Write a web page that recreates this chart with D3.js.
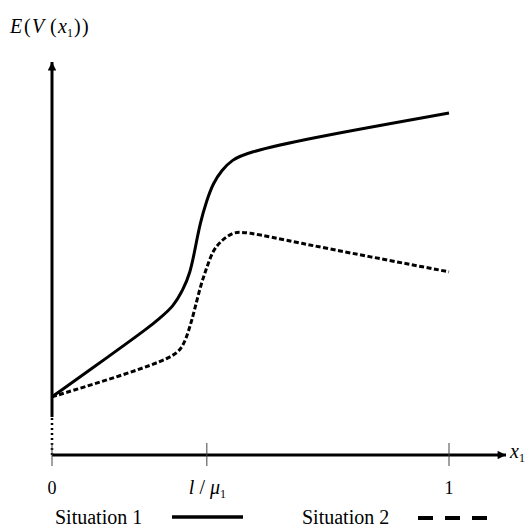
<!DOCTYPE html>
<html>
<head>
<meta charset="utf-8">
<script src="https://cdn.jsdelivr.net/npm/d3@7"></script>
<style>
body { margin: 0; background: #fff; }
</style>
</head>
<body>
<svg id="chart"></svg>
<script>
// values (x in units of x1, y as share of axis height)
var xs1 = [0, 0.146, 0.247, 0.272, 0.305, 0.330, 0.348, 0.360, 0.373, 0.390, 0.406, 0.428, 0.453, 0.491, 0.625, 1.0]
var ys1 = [0.148, 0.253, 0.327, 0.349, 0.377, 0.420, 0.463, 0.522, 0.590, 0.649, 0.692, 0.725, 0.751, 0.769, 0.802, 0.870]
var xs2 = [0, 0.071, 0.196, 0.305, 0.330, 0.345, 0.358, 0.373, 0.390, 0.406, 0.428, 0.453, 0.481, 0.625, 0.793, 1.0]
var ys2 = [0.148, 0.170, 0.209, 0.249, 0.275, 0.318, 0.364, 0.427, 0.478, 0.522, 0.547, 0.565, 0.570, 0.539, 0.506, 0.466]
var tickVals = [0, 0.39, 1]
var legendNames = ["Situation 1", "Situation 2"]

var screen = {width: 530, height: 528}

var svg = d3.select("#chart")
    .attr("width", screen.width)
    .attr("height", screen.height)
    .style("font-family", "\"Liberation Serif\", \"Times New Roman\", serif")

var xscale = d3.scaleLinear().domain([0, 1]).range([52, 449])
var yscale = d3.scaleLinear().domain([0, 1]).range([455, 62])

var defs = svg.append("defs")
defs.append("marker")
    .attr("id", "arrow")
    .attr("viewBox", "0 0 10 10")
    .attr("refX", 10).attr("refY", 5)
    .attr("markerWidth", 3.2).attr("markerHeight", 2.8)
    .attr("markerUnits", "strokeWidth")
    .attr("orient", "auto")
    .append("path")
    .attr("d", "M0,0L10,5L0,10Z")
    .attr("fill", "#000")

// y axis: dotted stub near the origin, solid above it
var yBreak = 0.097
svg.append("line")
    .attr("x1", xscale(0)).attr("x2", xscale(0))
    .attr("y1", yscale(0)).attr("y2", yscale(yBreak))
    .attr("stroke", "#000").attr("stroke-width", 2.5)
    .attr("stroke-dasharray", "2,3")
svg.append("line")
    .attr("x1", xscale(0)).attr("x2", xscale(0))
    .attr("y1", yscale(yBreak)).attr("y2", yscale(1))
    .attr("stroke", "#000").attr("stroke-width", 3)
    .attr("marker-end", "url(#arrow)")

// x axis
svg.append("line")
    .attr("x1", xscale(0)).attr("x2", 506)
    .attr("y1", yscale(0)).attr("y2", yscale(0))
    .attr("stroke", "#000").attr("stroke-width", 3)
    .attr("marker-end", "url(#arrow)")

svg.selectAll(".tick")
    .data(tickVals)
    .enter()
    .append("line")
    .attr("class", "tick")
    .attr("x1", function(d) { return xscale(d) })
    .attr("x2", function(d) { return xscale(d) })
    .attr("y1", yscale(0) - 12)
    .attr("y2", yscale(0) + 11)
    .attr("stroke", "#444").attr("stroke-width", 1)

// tick labels
svg.append("text").attr("x", xscale(0)).attr("y", 494)
    .attr("text-anchor", "middle").style("font-size", "18px").text("0")
svg.append("text").attr("x", xscale(1)).attr("y", 494)
    .attr("text-anchor", "middle").style("font-size", "18px").text("1")
var lm = svg.append("text").attr("x", xscale(tickVals[1]) - 18).attr("y", 494)
    .style("font-size", "20px")
lm.append("tspan").style("font-style", "italic").text("l")
lm.append("tspan").attr("dx", 5).text("/")
lm.append("tspan").attr("dx", 5).style("font-style", "italic").text("μ")
lm.append("tspan").attr("dy", 4).style("font-size", "12px").text("1")

// axis titles
var xt = svg.append("text").attr("x", 510).attr("y", 458).style("font-size", "20px")
xt.append("tspan").style("font-style", "italic").text("x")
xt.append("tspan").attr("dy", 4).style("font-size", "12px").text("1")

var yt = svg.append("text").attr("y", 33).style("font-size", "20px")
yt.append("tspan").attr("x", 10).style("font-style", "italic").text("E")
yt.append("tspan").attr("x", 24).text("(")
yt.append("tspan").attr("x", 32).style("font-style", "italic").text("V")
yt.append("tspan").attr("x", 50).text("(")
yt.append("tspan").attr("x", 58).style("font-style", "italic").text("x")
yt.append("tspan").attr("x", 67).attr("dy", 4).style("font-size", "12px").text("1")
yt.append("tspan").attr("x", 74).attr("dy", -4).text(")")
yt.append("tspan").attr("x", 82).text(")")

// curves
var line = d3.line()
    .x(function(d) { return xscale(d[0]) })
    .y(function(d) { return yscale(d[1]) })
    .curve(d3.curveBasis)

svg.append("path")
    .datum(d3.zip(xs1, ys1))
    .attr("d", line)
    .attr("fill", "none").attr("stroke", "#000").attr("stroke-width", 3)
svg.append("path")
    .datum(d3.zip(xs2, ys2))
    .attr("d", line)
    .attr("fill", "none").attr("stroke", "#000").attr("stroke-width", 3)
    .attr("stroke-dasharray", "5,2.5")

// legend
svg.append("text").attr("x", 55).attr("y", 524).style("font-size", "20px").text(legendNames[0])
svg.append("line").attr("x1", 172).attr("x2", 243).attr("y1", 517).attr("y2", 517)
    .attr("stroke", "#000").attr("stroke-width", 3.5)
svg.append("text").attr("x", 302).attr("y", 524).style("font-size", "20px").text(legendNames[1])
svg.append("line").attr("x1", 418).attr("x2", 490).attr("y1", 518).attr("y2", 518)
    .attr("stroke", "#000").attr("stroke-width", 4)
    .attr("stroke-dasharray", "15,12")
</script>
</body>
</html>
